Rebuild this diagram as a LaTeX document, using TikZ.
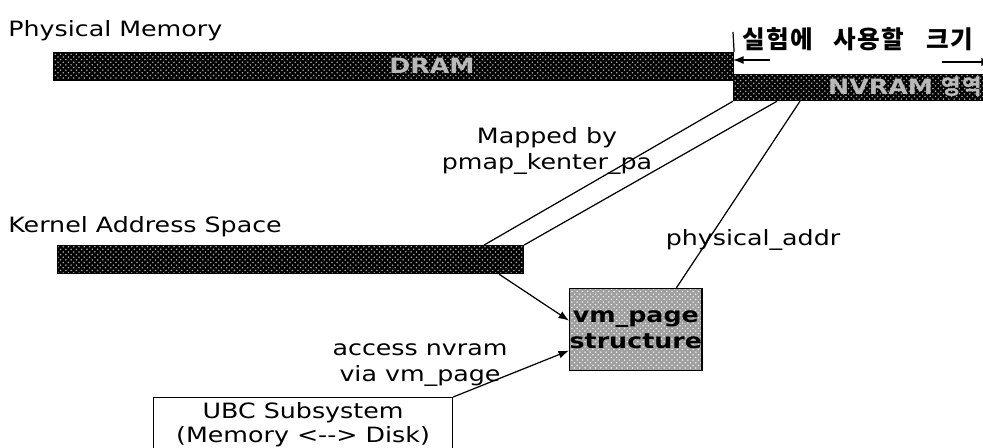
\documentclass[tikz,border=0pt]{standalone}
\usepackage{fontspec}
\setmainfont{DejaVu Sans}[FakeStretch=1.2]
\newfontfamily\kor{Noto Sans CJK KR}[LetterSpace=6]
\usepackage{tikz}
\usetikzlibrary{arrows.meta, patterns, positioning}

\begin{document}
\begin{tikzpicture}[x=0.02cm,y=-0.02cm,line width=0.7pt,>={Latex[length=6pt,width=4.5pt]},
    bar/.style={draw, preaction={fill=black}, pattern=crosshatch dots, pattern color=gray!70, inner sep=0, anchor=north west},
    bartxt/.style={text=gray!55, font=\bfseries\fontsize{12}{14}\selectfont},
    lbl/.style={font=\fontsize{12}{15}\selectfont, align=center, inner sep=1pt}]
    \useasboundingbox (0,0) rectangle (983,447);
    \clip (0,0) rectangle (983,447);

    % physical memory
    \node[lbl, anchor=west] (physlbl) at (6,31) {Physical Memory};
    \node[bar, minimum width=13.6cm, minimum height=0.56cm] (dram) at (53,52) {};
    \node[bar, minimum width=5.2cm, minimum height=0.52cm] (nvram) at (733,74) {};
    \node[bartxt] (dramtxt) at (432,66) {DRAM};
    \node[bartxt] (nvramtxt) at (905,87) {NVRAM {\kor 영역}};

    % size used in experiment
    \node[anchor=west, inner sep=0, font=\kor\bfseries\fontsize{14}{16}\selectfont] (size) at (742,39)
        {실험에\hspace{0.4cm}사용할\hspace{0.45cm}크기};
    \coordinate (tickT) at (733,32);
    \coordinate (dimL) at (770,60);
    \coordinate (dimR) at (942,62);
    \coordinate (dimRend) at (992,62);
    \draw (tickT) -- (dram.north east);
    \draw[->] (dimL) -- (733,60);
    \draw[->] (dimR) -- (dimRend);

    % kernel address space
    \node[lbl, anchor=west] (kaslbl) at (6,227) {Kernel Address Space};
    \node[bar, minimum width=9.32cm, minimum height=0.56cm] (kas) at (57,245) {};

    % vm_page and UBC
    \node[draw, preaction={fill=gray!75}, pattern=crosshatch dots, pattern color=white!85!gray, anchor=north west,
          minimum width=2.42cm, minimum height=1.64cm, inner sep=0, align=center,
          font=\bfseries\fontsize{12}{15}\selectfont] (vmpage) at (569,288) {vm\_page\\structure};
    \node[draw, fill=white, anchor=north west, minimum width=5.98cm, minimum height=1.08cm, inner sep=0,
          align=center, font=\fontsize{12}{14}\selectfont] (ubc) at (153,397) {UBC Subsystem\\(Memory <{-}{-}> Disk)};

    % mappings
    \draw (nvram.south west) -- ([xshift=-0.8cm]kas.north east);
    \draw ([xshift=0.88cm]nvram.south west) -- (kas.north east);
    \draw ([xshift=1.34cm]nvram.south west) -- ([xshift=0.81cm]vmpage.north);
    \draw[->] ([xshift=-0.5cm]kas.south east) -- ([yshift=0.18cm]vmpage.west);
    \draw[->] (ubc.north east) -- ([yshift=-0.42cm]vmpage.west);

    \node[lbl] (maplbl) at (547,151) {Mapped by\\pmap\_kenter\_pa};
    \node[lbl] (physaddr) at (753,240) {physical\_addr};
    \node[lbl] (acclbl) at (420,365) {access nvram\\via vm\_page};
\end{tikzpicture}
\end{document}
